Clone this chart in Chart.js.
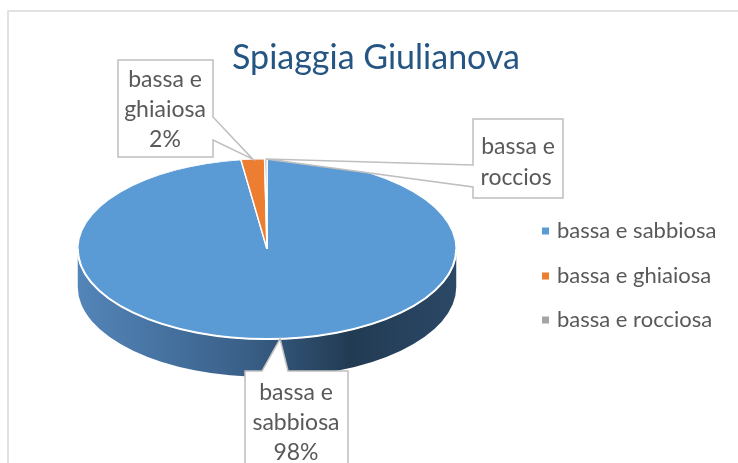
<!DOCTYPE html>
<html>
<head>
<meta charset="utf-8">
<script src="https://cdn.jsdelivr.net/npm/chart.js@4/dist/chart.umd.min.js"></script>
<style>
  html, body { margin: 0; padding: 0; background: #fff; }
  #grafico { display: block; }
</style>
</head>
<body>
<canvas id="grafico" width="738" height="463"></canvas>
<script>
// Dati del grafico
const titolo = 'Spiaggia Giulianova';
const categorie = ['bassa e sabbiosa', 'bassa e ghiaiosa', 'bassa e rocciosa'];
const valori = [97.8, 2.0, 0.2];
const colori = ['#5b9bd5', '#ed7d31', '#a5a5a5'];

const FONT = 'Lato, "Open Sans", sans-serif';
const GRIGIO = '#595959';
const TILT = 0.476;   // schiacciamento verticale (finto 3D)
const DEPTH = 38;     // spessore della torta in px

// Riquadri delle etichette (posizione, lato del "becco", spazio per il testo)
const riquadri = [
    { x: 245, y: 371, w: 103, h: 110, lato: 'top', b1: 262, b2: 288, righe: [393, 423, 453], tx: 296, larg: 100 },
    { x: 118, y: 60, w: 95, h: 97, lato: 'right', b1: 117, b2: 140, righe: [80, 110, 140], tx: 165, larg: 92 },
    { x: 473, y: 119, w: 90, h: 79, lato: 'left', b1: 165, b2: 187, righe: [147, 178, 209], tx: 518, larg: 75 }
];

function centro(chart) {
    const a = chart.getDatasetMeta(0).data[0];
    return { cx: a.x, cy: a.y, r: a.outerRadius };
}

// Lato frontale della torta (solo la metà visibile)
function disegnaLato(ctx, chart) {
    const { cx, cy, r } = centro(chart);
    const d = DEPTH / TILT;
    const grad = ctx.createLinearGradient(cx - r, 0, cx + r, 0);
    grad.addColorStop(0, '#5385b9');
    grad.addColorStop(0.45, '#395f87');
    grad.addColorStop(0.72, '#223b53');
    grad.addColorStop(1, '#2b4866');
    chart.getDatasetMeta(0).data.forEach(arc => {
        [0, 2 * Math.PI].forEach(off => {
            const s = Math.max(arc.startAngle, off);
            const e = Math.min(arc.endAngle, off + Math.PI);
            if (e <= s) return;
            ctx.beginPath();
            ctx.arc(cx, cy, r, s, e, false);
            ctx.arc(cx, cy + d, r, e, s, true);
            ctx.closePath();
            ctx.fillStyle = grad;
            ctx.fill();
        });
    });
}

function fumetto(ctx, b, tip) {
    const { x, y, w, h } = b;
    ctx.beginPath();
    if (b.lato === 'top') {
        ctx.moveTo(x, y); ctx.lineTo(b.b1, y); ctx.lineTo(tip.x, tip.y); ctx.lineTo(b.b2, y);
        ctx.lineTo(x + w, y); ctx.lineTo(x + w, y + h); ctx.lineTo(x, y + h);
    } else if (b.lato === 'right') {
        ctx.moveTo(x, y); ctx.lineTo(x + w, y); ctx.lineTo(x + w, b.b1); ctx.lineTo(tip.x, tip.y);
        ctx.lineTo(x + w, b.b2); ctx.lineTo(x + w, y + h); ctx.lineTo(x, y + h);
    } else {
        ctx.moveTo(x, y); ctx.lineTo(x + w, y); ctx.lineTo(x + w, y + h); ctx.lineTo(x, y + h);
        ctx.lineTo(x, b.b2); ctx.lineTo(tip.x, tip.y); ctx.lineTo(x, b.b1);
    }
    ctx.closePath();
    ctx.fillStyle = '#fff';
    ctx.fill();
    ctx.strokeStyle = '#bfbfbf';
    ctx.lineWidth = 1.5;
    ctx.stroke();
}

const torta3D = {
    id: 'torta3D',
    beforeDraw(chart) {
        const ctx = chart.ctx;
        ctx.save();
        ctx.fillStyle = '#fff';
        ctx.fillRect(0, 0, chart.width, chart.height);
        // cornice
        ctx.strokeStyle = '#d9d9d9';
        ctx.lineWidth = 1.5;
        ctx.beginPath();
        ctx.moveTo(8, chart.height + 2);
        ctx.lineTo(8, 11);
        ctx.lineTo(chart.width + 2, 11);
        ctx.stroke();
        // titolo
        ctx.fillStyle = '#255583';
        ctx.font = '34px ' + FONT;
        ctx.textAlign = 'center';
        ctx.textBaseline = 'middle';
        ctx.fillText(titolo, 376, 58);
        ctx.restore();
    },
    beforeDatasetsDraw(chart) {
        const ctx = chart.ctx;
        const { cx, cy } = centro(chart);
        ctx.save();
        ctx.translate(cx, cy);
        ctx.scale(1, TILT);
        ctx.translate(-cx, -cy);
        disegnaLato(ctx, chart);
    },
    afterDatasetsDraw(chart) {
        const ctx = chart.ctx;
        ctx.restore();
        const { cx, cy, r } = centro(chart);
        // bordo bianco anteriore
        ctx.save();
        ctx.strokeStyle = '#fff';
        ctx.lineWidth = 2;
        ctx.beginPath();
        ctx.ellipse(cx, cy, r, r * TILT, 0, 0, Math.PI);
        ctx.stroke();

        // etichette
        const totale = valori.reduce((a, b) => a + b, 0);
        chart.getDatasetMeta(0).data.forEach((arc, i) => {
            const b = riquadri[i];
            const mid = (arc.startAngle + arc.endAngle) / 2;
            const tip = { x: cx + r * Math.cos(mid), y: cy + r * TILT * Math.sin(mid) };
            fumetto(ctx, b, tip);
            const parti = categorie[i].split('e ');
            const righe = ['bassa e', parti.slice(1).join('e '), Math.round(valori[i] / totale * 100) + '%'];
            const sx = b.tx - b.larg / 2;
            ctx.save();
            ctx.beginPath();
            ctx.rect(b.x + 1, b.y + 1, b.w - 2, b.h - 2);
            ctx.clip();
            ctx.fillStyle = GRIGIO;
            ctx.font = '23px ' + FONT;
            ctx.textBaseline = 'middle';
            righe.forEach((t, j) => {
                if (ctx.measureText(t).width > b.larg) {
                    // parola troppo lunga: parte da sinistra e viene troncata
                    let vis = t;
                    while (vis.length > 1 && ctx.measureText(vis).width > b.larg) vis = vis.slice(0, -1);
                    ctx.textAlign = 'left';
                    ctx.fillText(vis, sx, b.righe[j]);
                } else {
                    ctx.textAlign = 'center';
                    ctx.fillText(t, b.tx, b.righe[j]);
                }
            });
            ctx.restore();
        });

        // legenda
        const ly = [231, 276, 320];
        ctx.font = '22px ' + FONT;
        ctx.textBaseline = 'middle';
        ctx.textAlign = 'left';
        categorie.forEach((c, i) => {
            ctx.fillStyle = colori[i];
            ctx.fillRect(542, ly[i] - 3.5, 7, 7);
            ctx.fillStyle = GRIGIO;
            ctx.fillText(c, 557, ly[i]);
        });
        ctx.restore();
    }
};

new Chart(document.getElementById('grafico'), {
    type: 'pie',
    data: {
        labels: categorie,
        datasets: [{
            data: valori,
            backgroundColor: colori,
            borderColor: '#ffffff',
            borderWidth: 1.5
        }]
    },
    options: {
        responsive: false,
        animation: false,
        layout: { padding: { left: 77, right: 281, top: 59, bottom: 24 } },
        plugins: {
            legend: { display: false },
            title: { display: false },
            tooltip: { enabled: false }
        }
    },
    plugins: [torta3D]
});
</script>
</body>
</html>
